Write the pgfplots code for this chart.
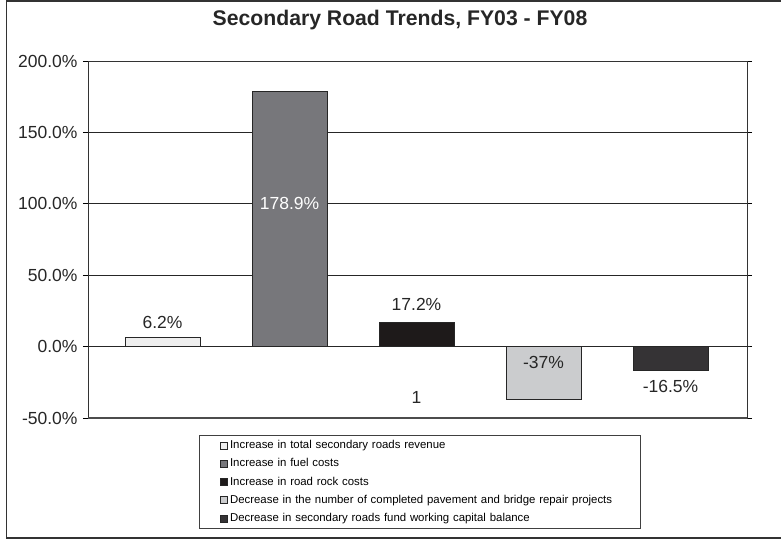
\documentclass[border=0pt]{standalone}
\usepackage{pgfplots}
\pgfplotsset{compat=1.18}
\usepackage{fontspec}
\setmainfont{Liberation Sans}
\definecolor{cA}{HTML}{EEEEEE}
\definecolor{cB}{HTML}{77777B}
\definecolor{cC}{HTML}{1E1A1A}
\definecolor{cD}{HTML}{CBCCCE}
\definecolor{cE}{HTML}{353335}
\definecolor{frm}{HTML}{333333}
\begin{document}
\begin{tikzpicture}[x=1pt,y=1pt]
\useasboundingbox (0,0) rectangle (781,539);
% outer frame (open on the right, as cropped)
\draw[frm, line width=1.2pt] (790,538) -- (6.5,538) -- (6.5,1) -- (790,1);
\node[font=\fontsize{21.2}{25}\selectfont\bfseries, text=black!85] at (400,519) {Secondary Road Trends, FY03 - FY08};
\begin{axis}[
  at={(88pt,121pt)}, anchor=south west,
  width=659pt, height=357pt, scale only axis,
  xmin=-0.5866, xmax=4.6024, ymin=-50, ymax=200,
  xtick=\empty,
  ytick={-50,0,50,100,150,200},
  yticklabels={-50.0\%,0.0\%,50.0\%,100.0\%,150.0\%,200.0\%},
  yticklabel style={font=\fontsize{17.5}{20}\selectfont, text=black!85, xshift=-2pt},
  tick align=outside, major tick length=5pt,
  ytick style={black, line width=0.8pt},
  ymajorgrids, grid style={black!85, line width=0.8pt},
  axis line style={black!80, line width=1pt},
  ybar, bar width=75pt, bar shift=0pt,
  clip=false,
  legend style={at={(0.1684,-0.0476)}, anchor=north west,
    draw=black!75, line width=0.8pt,
    font=\fontsize{11.4}{13}\selectfont,
    inner xsep=6pt, inner ysep=4.5pt, row sep=7.4pt,
    nodes={inner ysep=0pt, text height=8.6pt, text depth=2.3pt},
    /tikz/every even column/.append style={text width=402pt, align=left},
    legend cell align=left},
  legend image code/.code={\path (0pt,0pt); \draw[#1, line width=0.6pt] (15pt,-3.5pt) rectangle (22pt,3.5pt);},
]
\addplot[fill=cA, draw=black!85, line width=0.8pt] coordinates {(0,6.2)};
\addplot[fill=cB, draw=black!85, line width=0.8pt] coordinates {(1,178.9)};
\addplot[fill=cC, draw=black!85, line width=0.8pt] coordinates {(2,17.2)};
\addplot[fill=cD, draw=black!85, line width=0.8pt] coordinates {(3,-37)};
\addplot[fill=cE, draw=black!85, line width=0.8pt] coordinates {(4,-16.5)};
\legend{Increase in total secondary roads revenue,
Increase in fuel costs,
Increase in road rock costs,
Decrease in the number of completed pavement and bridge repair projects,
Decrease in secondary roads fund working capital balance}
\draw[black!85, line width=0.8pt] (axis cs:-0.5866,0) -- ([xshift=3pt]axis cs:4.6024,0);
\draw[black!70, line width=1.6pt] (axis cs:-0.5866,-50) -- (axis cs:4.6024,-50);
\begin{scope}[every node/.style={font=\fontsize{17.5}{20}\selectfont, text=black!85}]
\node at (axis cs:0,16.8) {6.2\%};
\node[text=white] at (axis cs:1,100.4) {178.9\%};
\node at (axis cs:2,29.5) {17.2\%};
\node at (axis cs:2,-35.8) {1};
\node at (axis cs:3,-11.2) {-37\%};
\node at (axis cs:4,-28.1) {-16.5\%};
\end{scope}
\end{axis}
\end{tikzpicture}
\end{document}
